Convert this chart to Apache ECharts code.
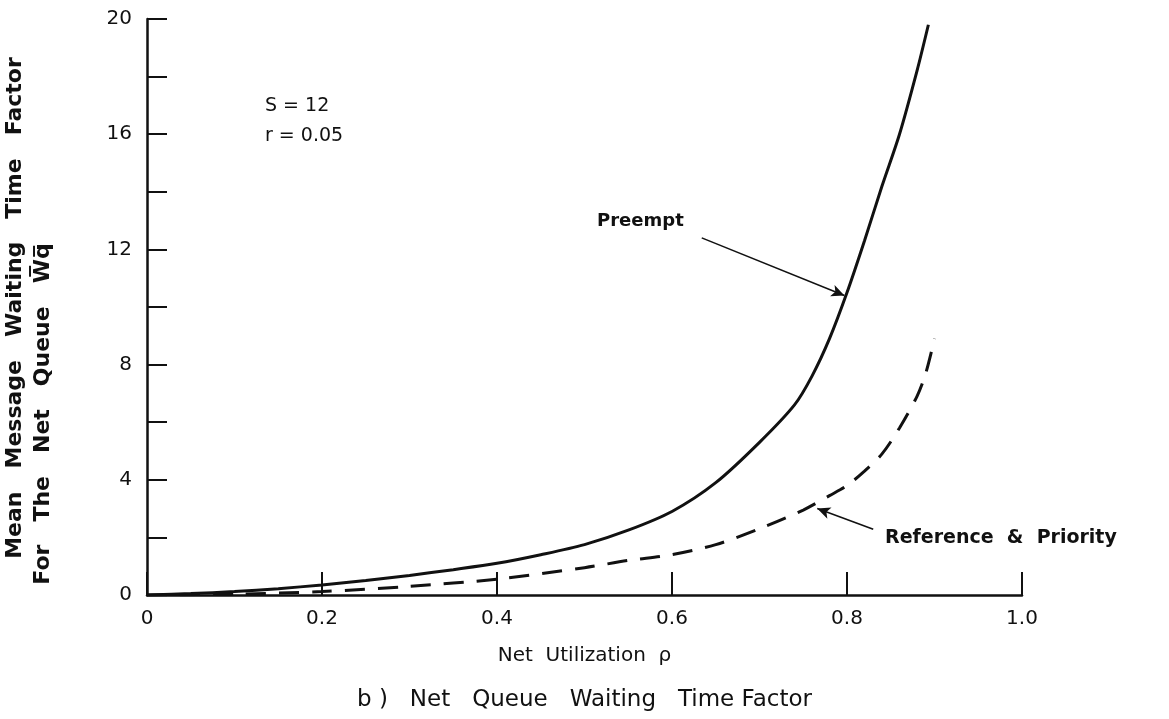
<!DOCTYPE html>
<html>
<head>
<meta charset="utf-8">
<script src="https://cdn.jsdelivr.net/npm/echarts@6/dist/echarts.min.js"></script>
<style>
html,body{margin:0;padding:0;background:#fff;}
#chart{width:1169px;height:719px;}
</style>
</head>
<body>
<div id="chart"></div>
<script>
// ---- data ----
const preemptX = [0, 0.05, 0.1, 0.15, 0.2, 0.25, 0.3, 0.35, 0.4, 0.45, 0.5, 0.55, 0.6, 0.65, 0.7, 0.74, 0.76, 0.78, 0.8, 0.82, 0.84, 0.86, 0.88, 0.893];
const preemptY = [0, 0.05, 0.12, 0.22, 0.35, 0.5, 0.68, 0.88, 1.1, 1.4, 1.75, 2.25, 2.9, 3.9, 5.3, 6.6, 7.6, 8.9, 10.5, 12.3, 14.2, 16.0, 18.2, 19.8];
const refPriX = [0, 0.1, 0.2, 0.3, 0.4, 0.5, 0.55, 0.6, 0.65, 0.7, 0.75, 0.78, 0.8, 0.82, 0.84, 0.86, 0.88, 0.89, 0.9];
const refPriY = [0, 0.03, 0.12, 0.3, 0.55, 0.95, 1.2, 1.4, 1.75, 2.3, 2.95, 3.45, 3.8, 4.3, 4.9, 5.8, 6.9, 7.7, 8.9];
const xTicks = [0, 0.2, 0.4, 0.6, 0.8, 1.0];
const xTickLabels = ['0', '0.2', '0.4', '0.6', '0.8', '1.0'];
const yLabelStep = 4;
const seriesNames = ['Preempt', 'Reference & Priority'];
const params = ['S = 12', 'r = 0.05'];
const yTitle1 = ['Mean', 'Message', 'Waiting', 'Time', 'Factor'];
const yTitle2 = ['For', 'The', 'Net', 'Queue', 'W\u0305q\u0305'];

const FONT = 'DejaVu Sans';
const ink = '#111';

const pts = (xs, ys) => xs.map((x, i) => [x, ys[i]]);
const spaced = (words, n) => words.join(' '.repeat(n));

const chart = echarts.init(document.getElementById('chart'), null, {renderer: 'canvas'});
chart.setOption({
  animation: false,
  backgroundColor: '#fff',
  grid: {left: 147, right: 147, top: 19, bottom: 124, containLabel: false},
  title: {
    text: 'b )   Net   Queue   Waiting   Time Factor',
    left: 'center', top: 684,
    textStyle: {fontFamily: FONT, fontSize: 23, fontWeight: 'normal', color: ink}
  },
  xAxis: {
    type: 'value', min: 0, max: 1, interval: 0.2,
    name: 'Net  Utilization  ρ', nameLocation: 'middle', nameGap: 51,
    nameTextStyle: {fontFamily: FONT, fontSize: 20, color: ink},
    axisLine: {show: true, lineStyle: {color: ink, width: 2.5}},
    axisTick: {show: true, inside: true, length: 23, lineStyle: {color: ink, width: 2}},
    axisLabel: {
      margin: 14, fontFamily: FONT, fontSize: 20, color: ink,
      formatter: v => { const i = xTicks.findIndex(t => Math.abs(t - v) < 1e-6); return i >= 0 ? xTickLabels[i] : ''; }
    },
    splitLine: {show: false}
  },
  yAxis: {
    type: 'value', min: 0, max: 20, interval: 2,
    axisLine: {show: true, lineStyle: {color: ink, width: 2.5}},
    axisTick: {show: true, inside: true, length: 20, lineStyle: {color: ink, width: 2}},
    axisLabel: {
      margin: 15, fontFamily: FONT, fontSize: 20, color: ink,
      formatter: v => (Math.round(v) % yLabelStep === 0 ? String(v) : '')
    },
    splitLine: {show: false}
  },
  series: [
    {
      name: seriesNames[0], type: 'line', data: pts(preemptX, preemptY),
      smooth: 0.3, showSymbol: false, symbol: 'none',
      lineStyle: {color: ink, width: 3},
      markLine: {
        silent: true, symbol: ['none', 'arrow'], symbolSize: [9, 13],
        label: {show: false},
        lineStyle: {color: ink, width: 1.6, type: 'solid'},
        data: [[{coord: [0.634, 12.4]}, {coord: [0.797, 10.4]}]]
      }
    },
    {
      name: seriesNames[1], type: 'line', data: pts(refPriX, refPriY),
      smooth: 0.3, showSymbol: false, symbol: 'none',
      lineStyle: {color: ink, width: 3, type: [20, 13]},
      markLine: {
        silent: true, symbol: ['none', 'arrow'], symbolSize: [9, 13],
        label: {show: false},
        lineStyle: {color: ink, width: 1.6, type: 'solid'},
        data: [[{coord: [0.83, 2.28]}, {coord: [0.766, 3.0]}]]
      }
    }
  ],
  graphic: [
    {type: 'text', left: 265, top: 97, style: {text: params[0], font: '19px "DejaVu Sans"', fill: ink}},
    {type: 'text', left: 265, top: 127, style: {text: params[1], font: '19px "DejaVu Sans"', fill: ink}},
    {type: 'text', left: 597, top: 212, style: {text: seriesNames[0], font: 'bold 18px "DejaVu Sans"', fill: ink}},
    {type: 'text', left: 885, top: 529, style: {text: 'Reference  &  Priority', font: 'bold 19px "DejaVu Sans"', fill: ink}},
    {type: 'text', x: 15, y: 308, rotation: Math.PI / 2,
      style: {text: spaced(yTitle1, 3), font: 'bold 22px "DejaVu Sans"', fill: ink, align: 'center', verticalAlign: 'middle'}},
    {type: 'text', x: 43, y: 414, rotation: Math.PI / 2,
      style: {text: spaced(yTitle2, 3), font: 'bold 22px "DejaVu Sans"', fill: ink, align: 'center', verticalAlign: 'middle'}}
  ]
});
</script>
</body>
</html>
